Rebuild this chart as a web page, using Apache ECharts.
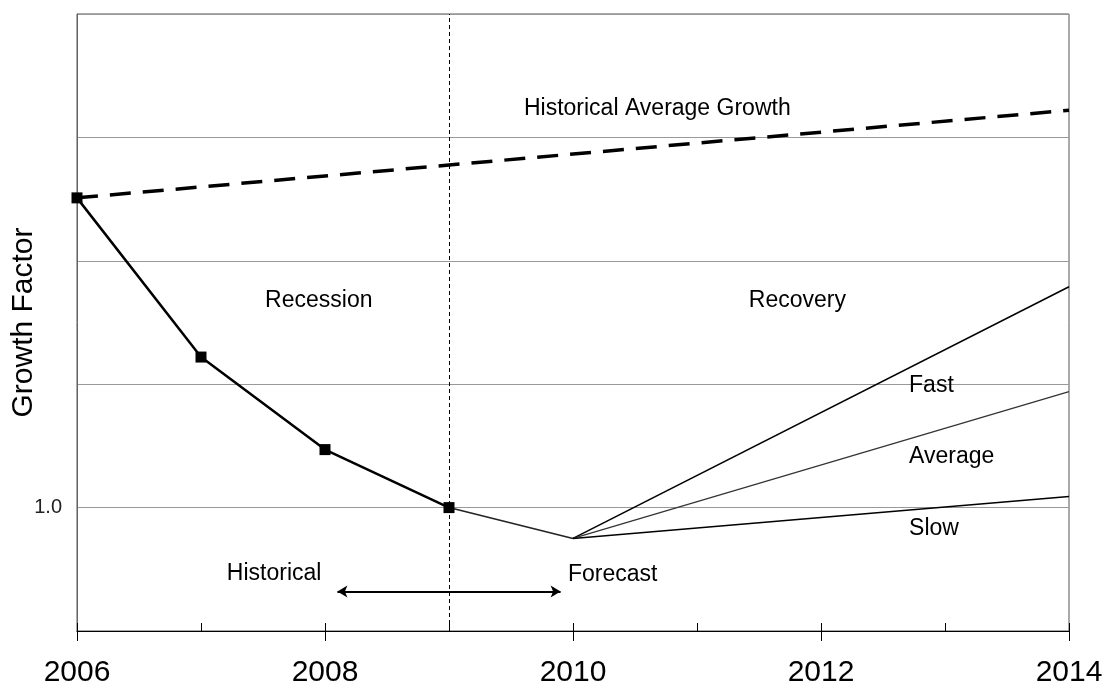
<!DOCTYPE html>
<html>
<head>
<meta charset="utf-8">
<script src="https://cdn.jsdelivr.net/npm/echarts@6/dist/echarts.min.js"></script>
<style>
  html, body { margin: 0; padding: 0; background: #fff; }
  #chart { width: 1104px; height: 687px; }
</style>
</head>
<body>
<div id="chart"></div>
<script>
// ---- data ----
var historicalYears = [2006, 2007, 2008, 2009];
var historicalValues = [1.251, 1.122, 1.047, 1.0];
var bridgeYears = [2009, 2010];
var bridgeValues = [1.0, 0.975];
var recoveryYears = [2010, 2014];
var fastValues = [0.975, 1.179];
var averageValues = [0.975, 1.094];
var slowValues = [0.975, 1.009];
var trendYears = [2006, 2014];
var trendValues = [1.251, 1.322];
var dividerYear = 2009;
var arrowYears = [2008.1, 2009.9];
var arrowLevel = 0.932;
var xTickLabels = [2006, 2008, 2010, 2012, 2014];
var yTickLabels = [1.0];
// annotations: [x, y, text, align]
var annotations = [
  [2010.68, 1.3235, 'Historical Average Growth', 'center'],
  [2007.95, 1.168, 'Recession', 'center'],
  [2011.81, 1.168, 'Recovery', 'center'],
  [2012.71, 1.099, 'Fast', 'left'],
  [2012.71, 1.041, 'Average', 'left'],
  [2012.71, 0.983, 'Slow', 'left'],
  [2007.59, 0.9466, 'Historical', 'center'],
  [2010.32, 0.946, 'Forecast', 'center']
];

function zip(xs, ys) { return xs.map(function (x, i) { return [x, ys[i]]; }); }

var FONT = 'Liberation Sans, Arial, sans-serif';

var chart = echarts.init(document.getElementById('chart'), null, { renderer: 'canvas' });
chart.setOption({
  animation: false,
  backgroundColor: '#fff',
  grid: {
    left: 77, right: 35, top: 14, bottom: 56,
    outerBoundsMode: 'none', containLabel: false,
    show: true, borderColor: '#555', borderWidth: 1, backgroundColor: 'transparent'
  },
  xAxis: [{
    type: 'value', min: 2006, max: 2014, interval: 1,
    axisLine: { show: true, lineStyle: { color: '#000', width: 1.2 } },
    axisTick: { show: true, inside: true, length: 8, lineStyle: { color: '#000', width: 1 } },
    splitLine: { show: false },
    axisLabel: {
      margin: 27, fontSize: 30, color: '#000', fontFamily: FONT,
      formatter: function (v) { return xTickLabels.indexOf(Math.round(v)) >= 0 && Math.abs(v - Math.round(v)) < 1e-6 ? String(Math.round(v)) : ''; }
    }
  }, {
    type: 'value', min: 2006, max: 2014, interval: 2, position: 'bottom',
    axisLine: { show: false },
    axisTick: { show: true, inside: false, length: 10, lineStyle: { color: '#000', width: 1 } },
    splitLine: { show: false },
    axisLabel: { show: false }
  }],
  yAxis: {
    type: 'value', min: 0.9, max: 1.4, interval: 0.1,
    name: 'Growth Factor', nameLocation: 'middle', nameGap: 38, nameMoveOverlap: false,
    nameTextStyle: { fontSize: 30, color: '#000', fontFamily: FONT },
    axisLine: { show: true, lineStyle: { color: '#666', width: 1 } },
    axisTick: { show: false },
    splitLine: { show: true, lineStyle: { color: '#999', width: 1 } },
    axisLabel: {
      margin: 15, fontSize: 20, color: '#222', fontFamily: FONT,
      formatter: function (v) {
        for (var i = 0; i < yTickLabels.length; i++) {
          if (Math.abs(v - yTickLabels[i]) < 1e-6) return yTickLabels[i].toFixed(1);
        }
        return '';
      }
    }
  },
  series: [
    {
      type: 'line', data: zip(trendYears, trendValues), symbol: 'none', silent: true,
      lineStyle: { color: '#000', width: 3.5, type: [21, 12] }, z: 3
    },
    {
      type: 'line', data: zip(bridgeYears, bridgeValues), symbol: 'none', silent: true,
      lineStyle: { color: '#222', width: 1.5 }, z: 3
    },
    {
      type: 'line', data: zip(recoveryYears, fastValues), symbol: 'none', silent: true,
      lineStyle: { color: '#000', width: 1.5 }, z: 3
    },
    {
      type: 'line', data: zip(recoveryYears, averageValues), symbol: 'none', silent: true,
      lineStyle: { color: '#333', width: 1.2 }, z: 3
    },
    {
      type: 'line', data: zip(recoveryYears, slowValues), symbol: 'none', silent: true,
      lineStyle: { color: '#000', width: 1.6 }, z: 3
    },
    {
      type: 'line', data: zip(historicalYears, historicalValues), silent: true,
      symbol: 'rect', symbolSize: 11, showSymbol: true,
      itemStyle: { color: '#000', borderWidth: 0 },
      lineStyle: { color: '#000', width: 2.5 }, z: 4,
      markLine: {
        silent: true, symbol: 'none', label: { show: false },
        lineStyle: { color: '#000', width: 1, type: [4, 3] },
        data: [{ xAxis: dividerYear }]
      }
    },
    {
      type: 'line', data: zip(arrowYears, [arrowLevel, arrowLevel]), symbol: 'none', silent: true,
      lineStyle: { color: '#000', width: 0 }, z: 3,
      markLine: {
        silent: true, symbol: ['arrow', 'arrow'], symbolSize: [9, 10], label: { show: false },
        lineStyle: { color: '#000', width: 2, type: 'solid' },
        data: [[{ coord: [arrowYears[0], arrowLevel] }, { coord: [arrowYears[1], arrowLevel] }]]
      }
    },
    {
      type: 'scatter', silent: true, symbol: 'circle', symbolSize: 0,
      itemStyle: { color: '#000', opacity: 1 }, z: 5,
      data: annotations.map(function (a) {
        return {
          value: [a[0], a[1]],
          label: {
            show: true, formatter: a[2],
            position: a[3] === 'left' ? 'right' : 'inside', distance: 0,
            align: a[3], verticalAlign: 'middle',
            fontSize: 23, color: '#000', opacity: 1, fontFamily: FONT
          }
        };
      })
    }
  ]
});
</script>
</body>
</html>
